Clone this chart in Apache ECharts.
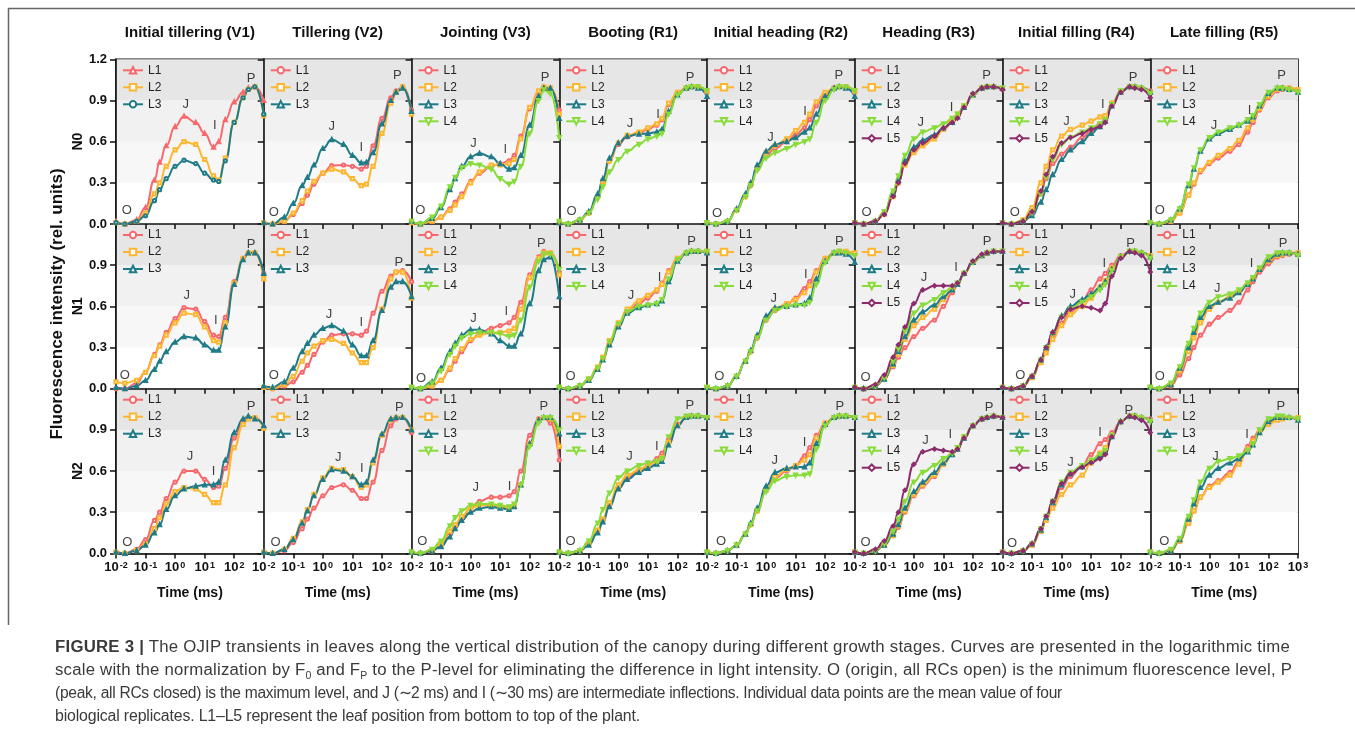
<!DOCTYPE html>
<html>
<head>
<meta charset="utf-8">
<title>OJIP transients</title>
<script src="https://cdn.jsdelivr.net/npm/echarts@6/dist/echarts.min.js"></script>
<style>
  body { margin: 0; background: #fff; }
  #chart { position: absolute; left: 0; top: 0; width: 1355px; height: 744px; }
  .ln {
    position: absolute; left: 55px; white-space: nowrap; display: inline-block;
    font-family: 'Liberation Sans', Arial, sans-serif;
    font-size: 16px; line-height: 20px; color: #3a3a3a; transform-origin: 0 50%;
  }
  .ln sub { font-size: 10px; line-height: 0; }
</style>
</head>
<body>
<div id="chart"></div>
<div class="ln" data-w="1235" style="top:637px"><b>FIGURE 3 |</b> The OJIP transients in leaves along the vertical distribution of the canopy during different growth stages. Curves are presented in the logarithmic time</div>
<div class="ln" data-w="1237" style="top:660px">scale with the normalization by F<sub>0</sub> and F<sub>P</sub> to the P-level for eliminating the difference in light intensity. O (origin, all RCs open) is the minimum fluorescence level, P</div>
<div class="ln" data-w="1007" style="top:683px">(peak, all RCs closed) is the maximum level, and J (∼2 ms) and I (∼30 ms) are intermediate inflections. Individual data points are the mean value of four</div>
<div class="ln" data-w="585" style="top:706px">biological replicates. L1–L5 represent the leaf position from bottom to top of the plant.</div>
<script>
// sampling times (ms) shared by every curve
const times = [0.01, 0.02, 0.05, 0.1, 0.2, 0.3, 0.5, 1, 2, 5, 10, 20, 30, 50, 100, 200, 300, 500, 1000];
const stages = ['Initial tillering (V1)', 'Tillering (V2)', 'Jointing (V3)', 'Booting (R1)',
  'Initial heading (R2)', 'Heading (R3)', 'Initial filling (R4)', 'Late filling (R5)'];
const nLevels = ['N0', 'N1', 'N2'];
const leafNames = ['L1', 'L2', 'L3', 'L4', 'L5'];
const ojipNames = ['O', 'J', 'I', 'P'];
const yTicks = [0, 0.3, 0.6, 0.9, 1.2];

/* N0 */
const n0v1 = [
  [0.02,0,0.03,0.12,0.32,0.45,0.57,0.71,0.785,0.74,0.66,0.56,0.6,0.76,0.89,0.96,0.99,1.0,0.9],
  [0.01,0,0.02,0.08,0.22,0.3,0.42,0.54,0.6,0.58,0.47,0.35,0.32,0.48,0.74,0.92,0.98,1.0,0.79],
  [0.01,0,0.02,0.06,0.17,0.25,0.33,0.42,0.465,0.44,0.37,0.32,0.31,0.46,0.74,0.92,0.98,1.0,0.8]];
const n0v2 = [
  [0.01,0,0.02,0.07,0.15,0.21,0.29,0.37,0.425,0.43,0.42,0.4,0.42,0.57,0.77,0.92,0.97,1.0,0.83],
  [0.01,0,0.02,0.08,0.17,0.24,0.31,0.37,0.4,0.38,0.33,0.28,0.29,0.42,0.66,0.88,0.96,1.0,0.8],
  [0.01,0,0.05,0.15,0.28,0.34,0.43,0.55,0.615,0.58,0.5,0.445,0.45,0.52,0.73,0.9,0.96,0.99,0.82]];
const n0v3 = [
  [0.01,0,0.02,0.05,0.11,0.16,0.22,0.31,0.37,0.42,0.44,0.46,0.5,0.64,0.84,0.96,0.99,0.98,0.83],
  [0.01,0,0.02,0.05,0.1,0.14,0.2,0.3,0.38,0.43,0.43,0.44,0.47,0.62,0.85,0.97,1.0,0.99,0.8],
  [0.02,0,0.04,0.12,0.25,0.33,0.42,0.49,0.515,0.49,0.44,0.4,0.41,0.5,0.72,0.93,0.99,0.99,0.77],
  [0.02,0,0.05,0.13,0.27,0.34,0.41,0.44,0.43,0.4,0.33,0.29,0.31,0.42,0.66,0.9,0.98,0.95,0.63]];
const n0v4 = [
  [0.01,0,0.03,0.08,0.2,0.31,0.46,0.58,0.635,0.66,0.69,0.72,0.76,0.87,0.96,0.99,1.0,1.0,0.96],
  [0.01,0,0.03,0.08,0.2,0.31,0.46,0.59,0.645,0.67,0.7,0.73,0.77,0.88,0.96,0.99,1.0,1.0,0.97],
  [0.01,0,0.03,0.09,0.22,0.33,0.48,0.59,0.64,0.655,0.66,0.67,0.69,0.82,0.94,0.99,1.0,0.99,0.93],
  [0.02,0,0.03,0.08,0.18,0.27,0.38,0.47,0.53,0.58,0.62,0.64,0.66,0.8,0.94,0.99,1.0,1.0,0.97]];
const n0v5 = [
  [0.01,0,0.02,0.1,0.2,0.28,0.4,0.5,0.55,0.6,0.65,0.7,0.76,0.86,0.95,0.99,1.0,1.0,0.96],
  [0.01,0,0.02,0.1,0.2,0.29,0.41,0.52,0.57,0.62,0.68,0.74,0.8,0.89,0.96,0.99,1.0,1.0,0.97],
  [0.01,0,0.02,0.11,0.22,0.3,0.43,0.53,0.58,0.6,0.63,0.67,0.7,0.8,0.93,0.99,1.0,0.99,0.93],
  [0.01,0,0.02,0.1,0.2,0.28,0.39,0.48,0.52,0.55,0.58,0.6,0.62,0.74,0.9,0.98,1.0,1.0,0.97]];
const n0v6 = [
  [0.01,0,0.02,0.08,0.21,0.31,0.44,0.53,0.58,0.63,0.69,0.74,0.79,0.86,0.94,0.99,1.0,1.0,0.98],
  [0.01,0,0.02,0.07,0.2,0.3,0.43,0.52,0.57,0.62,0.69,0.76,0.8,0.86,0.94,0.99,1.0,1.0,0.99],
  [0.01,0,0.02,0.08,0.22,0.32,0.46,0.56,0.61,0.65,0.7,0.74,0.78,0.85,0.94,0.99,1.0,1.0,0.99],
  [0.01,0,0.02,0.09,0.24,0.35,0.5,0.62,0.67,0.7,0.73,0.77,0.8,0.86,0.94,0.99,1.0,1.0,0.99],
  [0.01,0,0.02,0.07,0.2,0.3,0.44,0.54,0.59,0.64,0.7,0.74,0.77,0.85,0.95,0.99,1.0,1.0,0.98]];
const n0v7 = [
  [0.01,0,0.02,0.08,0.22,0.33,0.44,0.51,0.56,0.63,0.68,0.73,0.77,0.88,0.96,1.0,1.0,0.99,0.97],
  [0.01,0,0.03,0.12,0.3,0.42,0.54,0.64,0.69,0.72,0.75,0.78,0.79,0.88,0.96,1.0,1.0,0.99,0.96],
  [0.01,0,0.02,0.06,0.16,0.25,0.36,0.47,0.54,0.6,0.66,0.71,0.75,0.86,0.96,1.0,1.0,0.99,0.96],
  [0.01,0,0.02,0.08,0.22,0.34,0.47,0.58,0.63,0.67,0.7,0.73,0.76,0.87,0.97,1.0,1.0,0.99,0.95],
  [0.01,0,0.02,0.09,0.24,0.36,0.49,0.59,0.63,0.66,0.69,0.71,0.74,0.86,0.96,1.0,0.99,0.98,0.92]];
const n0v8 = [
  [0.01,0,0.02,0.08,0.21,0.29,0.38,0.44,0.48,0.53,0.58,0.67,0.74,0.83,0.92,0.97,0.98,0.99,0.97],
  [0.01,0,0.02,0.08,0.21,0.3,0.39,0.45,0.5,0.55,0.61,0.7,0.76,0.84,0.93,0.98,0.99,0.99,0.98],
  [0.01,0,0.03,0.11,0.28,0.4,0.53,0.62,0.66,0.69,0.72,0.75,0.78,0.86,0.95,0.99,0.99,0.98,0.96],
  [0.01,0,0.03,0.11,0.29,0.41,0.54,0.63,0.67,0.7,0.72,0.76,0.79,0.87,0.96,0.99,0.99,0.98,0.96]];

/* N1 */
const n1v1 = [
  [0,0,0.04,0.12,0.25,0.32,0.41,0.51,0.59,0.58,0.49,0.39,0.38,0.52,0.78,0.95,0.99,0.99,0.84],
  [0.05,0.04,0.06,0.12,0.24,0.31,0.39,0.48,0.55,0.54,0.45,0.35,0.34,0.48,0.77,0.95,0.99,0.99,0.8],
  [0.01,0,0.02,0.06,0.14,0.2,0.27,0.34,0.38,0.37,0.32,0.28,0.28,0.45,0.76,0.94,0.99,0.99,0.84]];
const n1v2 = [
  [0.01,0,0.02,0.05,0.12,0.17,0.25,0.34,0.39,0.4,0.4,0.39,0.42,0.55,0.71,0.82,0.85,0.86,0.78],
  [0.01,0,0.03,0.09,0.2,0.26,0.31,0.35,0.36,0.33,0.26,0.19,0.19,0.3,0.58,0.8,0.85,0.85,0.66],
  [0.02,0.01,0.05,0.15,0.27,0.33,0.39,0.44,0.46,0.42,0.32,0.24,0.24,0.35,0.57,0.74,0.78,0.78,0.67]];
const n1v3 = [
  [0.01,0,0.02,0.06,0.14,0.2,0.27,0.35,0.4,0.44,0.46,0.48,0.52,0.63,0.83,0.96,1.0,0.99,0.85],
  [0.01,0,0.02,0.06,0.15,0.22,0.29,0.36,0.39,0.41,0.41,0.42,0.44,0.58,0.81,0.95,0.99,0.99,0.83],
  [0.01,0,0.05,0.15,0.27,0.33,0.39,0.43,0.43,0.4,0.35,0.31,0.31,0.4,0.62,0.86,0.94,0.96,0.67],
  [0.01,0,0.04,0.13,0.25,0.31,0.37,0.4,0.41,0.41,0.4,0.38,0.39,0.5,0.74,0.93,0.98,0.98,0.87]];
const n1v4 = [
  [0.01,0,0.02,0.07,0.15,0.22,0.33,0.46,0.56,0.62,0.66,0.71,0.77,0.86,0.95,0.99,1.0,1.0,0.99],
  [0.01,0,0.02,0.07,0.16,0.23,0.35,0.48,0.58,0.64,0.68,0.72,0.76,0.85,0.95,0.99,1.0,1.0,1.0],
  [0.01,0,0.02,0.06,0.14,0.21,0.32,0.45,0.55,0.59,0.61,0.62,0.64,0.78,0.93,0.99,1.0,1.0,0.99],
  [0.01,0,0.02,0.07,0.15,0.22,0.34,0.47,0.56,0.6,0.61,0.62,0.65,0.8,0.94,0.99,1.0,1.0,1.0]];
const n1v5 = [
  [0.01,0,0.02,0.09,0.2,0.27,0.37,0.5,0.57,0.61,0.66,0.73,0.78,0.86,0.95,0.99,1.0,1.0,0.98],
  [0.01,0,0.02,0.09,0.2,0.27,0.38,0.51,0.58,0.62,0.65,0.7,0.75,0.85,0.95,0.99,1.0,1.0,0.99],
  [0.01,0,0.02,0.09,0.2,0.28,0.39,0.53,0.59,0.6,0.61,0.62,0.66,0.8,0.93,0.99,0.99,0.98,0.92],
  [0.01,0,0.02,0.09,0.2,0.27,0.37,0.5,0.57,0.6,0.61,0.61,0.63,0.76,0.92,0.99,1.0,0.99,0.97]];
const n1v6 = [
  [0.01,0,0.02,0.07,0.16,0.23,0.3,0.38,0.44,0.5,0.6,0.7,0.76,0.84,0.92,0.97,0.99,1.0,1.0],
  [0.01,0,0.02,0.07,0.17,0.25,0.36,0.46,0.52,0.58,0.65,0.72,0.76,0.84,0.92,0.97,0.99,1.0,1.0],
  [0.01,0,0.02,0.07,0.18,0.27,0.38,0.5,0.56,0.61,0.67,0.72,0.76,0.84,0.92,0.97,0.99,1.0,1.0],
  [0.01,0,0.02,0.08,0.2,0.29,0.42,0.55,0.61,0.65,0.7,0.74,0.77,0.84,0.92,0.97,0.99,1.0,1.0],
  [0.01,0,0.03,0.1,0.23,0.32,0.45,0.62,0.72,0.75,0.75,0.75,0.77,0.84,0.93,0.98,0.99,1.0,1.0]];
const n1v7 = [
  [0.01,0,0.02,0.09,0.2,0.28,0.38,0.48,0.56,0.64,0.72,0.8,0.84,0.9,0.97,1.0,1.0,0.99,0.97],
  [0.01,0,0.02,0.08,0.19,0.26,0.36,0.46,0.54,0.6,0.66,0.74,0.79,0.88,0.96,1.0,1.0,0.99,0.97],
  [0.01,0,0.02,0.09,0.21,0.3,0.41,0.53,0.6,0.65,0.69,0.74,0.78,0.87,0.96,1.0,1.0,0.99,0.96],
  [0.01,0,0.02,0.09,0.21,0.3,0.4,0.52,0.58,0.63,0.67,0.72,0.76,0.86,0.96,1.0,1.0,0.99,0.95],
  [0.01,0,0.02,0.09,0.21,0.3,0.41,0.52,0.58,0.6,0.59,0.57,0.62,0.82,0.95,1.0,0.99,0.97,0.85]];
const n1v8 = [
  [0.01,0,0.02,0.1,0.22,0.3,0.39,0.47,0.52,0.57,0.63,0.72,0.78,0.85,0.91,0.96,0.97,0.98,0.99],
  [0.01,0,0.03,0.13,0.27,0.37,0.48,0.58,0.63,0.67,0.71,0.77,0.81,0.87,0.93,0.97,0.98,0.99,0.99],
  [0.01,0,0.03,0.15,0.3,0.41,0.52,0.6,0.63,0.66,0.7,0.76,0.8,0.87,0.94,0.98,0.99,0.99,0.98],
  [0.01,0,0.04,0.16,0.33,0.44,0.55,0.63,0.67,0.69,0.72,0.77,0.81,0.88,0.96,0.99,0.99,0.99,0.97]];

/* N2 */
const n2v1 = [
  [0.01,0,0.03,0.1,0.24,0.3,0.4,0.52,0.6,0.6,0.54,0.48,0.49,0.62,0.84,0.97,0.99,0.99,0.92],
  [0.01,0,0.02,0.07,0.18,0.26,0.36,0.45,0.48,0.47,0.43,0.37,0.37,0.5,0.77,0.94,0.98,0.99,0.91],
  [0.01,0,0.02,0.06,0.15,0.21,0.32,0.42,0.47,0.49,0.5,0.5,0.52,0.68,0.88,0.98,1.0,0.98,0.93]];
const n2v2 = [
  [0.01,0,0.02,0.08,0.18,0.25,0.33,0.42,0.48,0.5,0.46,0.4,0.4,0.52,0.75,0.93,0.98,0.99,0.88],
  [0.01,0,0.03,0.11,0.23,0.32,0.43,0.55,0.62,0.61,0.56,0.48,0.5,0.66,0.86,0.97,0.99,0.99,0.9],
  [0.01,0,0.03,0.1,0.22,0.31,0.42,0.54,0.61,0.6,0.56,0.5,0.52,0.68,0.87,0.98,0.99,0.99,0.9]];
const n2v3 = [
  [0.01,0,0.02,0.06,0.15,0.2,0.26,0.33,0.38,0.41,0.41,0.42,0.45,0.6,0.86,0.98,0.99,0.95,0.68],
  [0.01,0,0.02,0.07,0.16,0.21,0.27,0.33,0.35,0.35,0.34,0.33,0.35,0.5,0.8,0.97,0.99,0.98,0.78],
  [0.01,0,0.02,0.05,0.12,0.18,0.24,0.3,0.33,0.34,0.33,0.32,0.34,0.5,0.8,0.97,0.99,0.99,0.87],
  [0.01,0,0.03,0.09,0.2,0.26,0.31,0.35,0.36,0.36,0.35,0.34,0.36,0.5,0.78,0.95,0.99,0.99,0.9]];
const n2v4 = [
  [0.01,0,0.02,0.07,0.16,0.24,0.35,0.48,0.55,0.6,0.64,0.69,0.73,0.83,0.94,0.99,1.0,1.0,0.99],
  [0.01,0,0.02,0.07,0.17,0.25,0.37,0.5,0.57,0.61,0.64,0.67,0.7,0.81,0.93,0.99,1.0,1.0,0.99],
  [0.01,0,0.02,0.06,0.15,0.23,0.34,0.47,0.54,0.59,0.62,0.65,0.67,0.79,0.93,0.99,1.0,1.0,0.99],
  [0.01,0,0.02,0.09,0.22,0.32,0.44,0.55,0.6,0.64,0.66,0.67,0.69,0.85,0.98,1.0,1.0,1.0,0.99]];
const n2v5 = [
  [0.01,0,0.02,0.06,0.14,0.21,0.31,0.46,0.55,0.6,0.64,0.71,0.77,0.86,0.95,0.99,1.0,1.0,0.99],
  [0.01,0,0.02,0.06,0.14,0.21,0.31,0.46,0.56,0.61,0.64,0.68,0.72,0.84,0.95,0.99,1.0,1.0,0.99],
  [0.01,0,0.02,0.06,0.14,0.22,0.33,0.49,0.59,0.62,0.63,0.63,0.66,0.8,0.94,0.99,1.0,1.0,0.99],
  [0.01,0,0.02,0.06,0.14,0.21,0.31,0.45,0.53,0.56,0.57,0.57,0.58,0.76,0.93,0.99,1.0,1.0,0.99]];
const n2v6 = [
  [0.01,0,0.02,0.06,0.13,0.19,0.3,0.42,0.49,0.56,0.65,0.72,0.76,0.84,0.93,0.98,0.99,1.0,0.99],
  [0.01,0,0.02,0.06,0.13,0.2,0.31,0.43,0.5,0.57,0.65,0.73,0.77,0.85,0.93,0.98,0.99,1.0,0.99],
  [0.01,0,0.02,0.06,0.14,0.21,0.33,0.45,0.52,0.59,0.66,0.72,0.76,0.84,0.93,0.98,0.99,1.0,0.99],
  [0.01,0,0.02,0.07,0.16,0.25,0.38,0.52,0.59,0.64,0.69,0.73,0.77,0.85,0.93,0.98,0.99,1.0,0.99],
  [0.01,0,0.03,0.09,0.2,0.3,0.46,0.65,0.74,0.76,0.75,0.74,0.76,0.84,0.93,0.98,0.99,1.0,0.99]];
const n2v7 = [
  [0.01,0,0.02,0.06,0.16,0.25,0.35,0.48,0.56,0.64,0.72,0.8,0.83,0.88,0.96,1.0,1.0,0.99,0.98],
  [0.01,0,0.02,0.06,0.16,0.24,0.33,0.43,0.5,0.57,0.66,0.73,0.77,0.86,0.96,1.0,1.0,0.99,0.97],
  [0.01,0,0.02,0.07,0.17,0.26,0.37,0.5,0.58,0.63,0.67,0.71,0.74,0.85,0.96,1.0,1.0,0.99,0.97],
  [0.01,0,0.02,0.07,0.18,0.27,0.38,0.52,0.59,0.64,0.68,0.72,0.75,0.86,0.96,1.0,1.0,0.99,0.96],
  [0.01,0,0.02,0.07,0.18,0.27,0.38,0.51,0.58,0.63,0.66,0.69,0.72,0.85,0.96,1.0,0.99,0.97,0.88]];
const n2v8 = [
  [0.01,0,0.02,0.09,0.22,0.31,0.41,0.49,0.53,0.59,0.67,0.78,0.84,0.9,0.95,0.98,0.99,0.99,0.98],
  [0.01,0,0.02,0.09,0.22,0.31,0.41,0.48,0.52,0.57,0.65,0.76,0.82,0.88,0.94,0.97,0.98,0.99,0.99],
  [0.01,0,0.02,0.1,0.25,0.36,0.48,0.57,0.62,0.66,0.69,0.74,0.79,0.88,0.96,0.99,0.99,0.99,0.97],
  [0.01,0,0.03,0.11,0.27,0.39,0.52,0.62,0.67,0.69,0.71,0.75,0.8,0.9,0.98,1.0,1.0,0.99,0.98]];

// O, J, I, P letter anchors [time, value] for each stage
const labelsN0 = [
  [[0.023,0.1],[2.3,0.87],[22,0.72],[370,1.06]], [[0.022,0.085],[2.0,0.71],[20,0.56],[330,1.08]],
  [[0.02,0.1],[1.25,0.59],[15,0.54],[330,1.07]], [[0.026,0.09],[2.5,0.73],[22,0.8],[270,1.07]],
  [[0.022,0.08],[1.4,0.63],[21,0.82],[290,1.08]], [[0.025,0.085],[1.7,0.74],[19,0.85],[290,1.08]],
  [[0.026,0.085],[1.47,0.75],[25,0.87],[260,1.07]], [[0.021,0.1],[1.44,0.72],[23,0.83],[280,1.08]]];
const labelsN1 = [
  [[0.02,0.1],[2.5,0.68],[24,0.5],[370,1.05]], [[0.022,0.1],[1.6,0.54],[20,0.48],[370,0.92]],
  [[0.021,0.075],[1.25,0.51],[16,0.56],[250,1.06]], [[0.024,0.087],[2.7,0.68],[25,0.81],[300,1.07]],
  [[0.026,0.087],[1.8,0.66],[22,0.83],[300,1.07]], [[0.023,0.08],[2.2,0.81],[27,0.88],[300,1.07]],
  [[0.04,0.1],[2.4,0.69],[28,0.91],[215,1.06]], [[0.021,0.087],[1.85,0.73],[27,0.91],[310,1.06]]];
const labelsN2 = [
  [[0.024,0.08],[3.2,0.71],[20,0.6],[370,1.07]], [[0.025,0.08],[3.3,0.7],[21,0.62],[390,1.06]],
  [[0.023,0.085],[1.5,0.48],[21,0.49],[300,1.07]], [[0.024,0.085],[2.4,0.71],[20,0.78],[260,1.08]],
  [[0.03,0.085],[1.95,0.68],[20,0.81],[310,1.07]], [[0.023,0.08],[2.5,0.82],[17,0.87],[350,1.06]],
  [[0.021,0.073],[2.0,0.66],[20,0.88],[190,1.04]], [[0.03,0.09],[1.6,0.71],[19,0.87],[260,1.07]]];

const curves = [
  [n0v1, n0v2, n0v3, n0v4, n0v5, n0v6, n0v7, n0v8],
  [n1v1, n1v2, n1v3, n1v4, n1v5, n1v6, n1v7, n1v8],
  [n2v1, n2v2, n2v3, n2v4, n2v5, n2v6, n2v7, n2v8]];
const letters = [labelsN0, labelsN1, labelsN2];

// styling
const FONT = "'Liberation Sans', Arial, Helvetica, sans-serif";
const leafColors = ['#f7686c', '#fdb630', '#1e7b87', '#88dc3a', '#8c2b6b'];
const leafSymbols = ['emptyCircle', 'emptyRect', 'emptyTriangle', 'emptyTriangle', 'emptyDiamond'];
const GL = 116, GT = 59.3, GW = 147.75, GH = 164.7;

var chart = echarts.init(document.getElementById('chart'));

var grids = [], xAxes = [], yAxes = [], series = [], legends = [];
for (let r = 0; r < 3; r++) {
  for (let c = 0; c < 8; c++) {
    const idx = r * 8 + c;
    const left = GL + c * GW, top = GT + r * GH;
    grids.push({ left: left, top: top, width: GW, height: GH, show: true,
      borderColor: '#111', borderWidth: 1.6, backgroundColor: 'transparent' });

    xAxes.push({
      gridIndex: idx, type: 'log', logBase: 10, min: 0.01, max: 1000,
      axisLine: { lineStyle: { color: '#111', width: 1.6 } },
      axisTick: { show: true, length: 5, lineStyle: { color: '#111', width: 1.5 } },
      splitLine: { show: false },
      axisLabel: {
        show: r === 2, showMaxLabel: c === 7, margin: 8,
        formatter: function (v) { return '{b|10}{s|' + Math.round(Math.log10(v)) + '}'; },
        rich: {
          b: { fontSize: 13, fontWeight: 'bold', color: '#111', fontFamily: FONT },
          s: { fontSize: 9, fontWeight: 'bold', color: '#111', fontFamily: FONT, verticalAlign: 'top', padding: [0, 0, 0, 1] }
        }
      },
      name: r === 2 ? 'Time (ms)' : '', nameLocation: 'middle', nameGap: 33,
      nameTextStyle: { fontWeight: 'bold', fontSize: 14, color: '#111', fontFamily: FONT }
    });

    yAxes.push({
      gridIndex: idx, type: 'value', min: yTicks[0], max: yTicks[4], interval: 0.3,
      axisLine: { show: true, lineStyle: { color: '#111', width: 1.6 } },
      axisTick: { show: true, length: 6, lineStyle: { color: '#111', width: 1.5 } },
      splitLine: { show: false },
      splitArea: { show: true, areaStyle: { color: ['#ffffff', '#f7f7f7', '#f1f1f1', '#e6e6e6'] } },
      axisLabel: {
        show: c === 0, showMaxLabel: r === 0, margin: 9,
        fontWeight: 'bold', fontSize: 13, color: '#111', fontFamily: FONT,
        formatter: function (v) { return v.toFixed(1); }
      },
      name: c === 0 ? nLevels[r] : '', nameLocation: 'middle', nameRotate: 90, nameGap: 31,
      nameTextStyle: { fontWeight: 'bold', fontSize: 14, color: '#111', fontFamily: FONT }
    });

    const panel = curves[r][c];
    const names = [];
    panel.forEach(function (vals, k) {
      let sym = leafSymbols[k];
      if (idx === 0 && k === 0) sym = 'emptyTriangle';
      if (idx === 0 && k === 2) sym = 'emptyCircle';
      const nm = 'p' + idx + '_' + leafNames[k];
      names.push(nm);
      series.push({
        type: 'line', name: nm, xAxisIndex: idx, yAxisIndex: idx,
        data: times.map(function (t, i) { return [t, vals[i]]; }),
        smooth: 0.5, smoothMonotone: 'x',
        symbol: sym, symbolSize: 3.2, symbolRotate: k === 3 ? 180 : 0,
        lineStyle: { width: 2, color: leafColors[k] },
        itemStyle: { color: leafColors[k], borderColor: leafColors[k], borderWidth: 1 },
        silent: true
      });
    });

    series.push({
      type: 'scatter', xAxisIndex: idx, yAxisIndex: idx, silent: true, z: 20,
      data: letters[r][c].map(function (p, i) { return [p[0], p[1], ojipNames[i]]; }),
      symbolSize: 1, itemStyle: { color: 'rgba(0,0,0,0)' },
      label: { show: true, position: 'inside', formatter: function (p) { return p.data[2]; },
        fontSize: 13, color: '#111', fontFamily: FONT }
    });

    legends.push({
      left: left + 6, top: top + 5, orient: 'vertical', padding: 0, itemGap: 5,
      itemWidth: 20, itemHeight: 8, selectedMode: false, data: names,
      formatter: function (n) { return n.split('_')[1]; },
      textStyle: { fontSize: 12, color: '#222', fontFamily: FONT }
    });
  }
}

var graphics = [
  { type: 'line', shape: { x1: 8, y1: 8.5, x2: 1355, y2: 8.5 }, style: { stroke: '#666', lineWidth: 1.5 } },
  { type: 'line', shape: { x1: 8.5, y1: 8, x2: 8.5, y2: 625 }, style: { stroke: '#666', lineWidth: 1.5 } },
  { type: 'text', x: 57, y: 304, rotation: Math.PI / 2,
    style: { text: 'Fluorescence intensity (rel. units)', fontSize: 17, fontWeight: 'bold', fontFamily: FONT,
      fill: '#111', align: 'center', verticalAlign: 'middle' } }
];
stages.forEach(function (s, c) {
  graphics.push({ type: 'text', x: GL + c * GW + GW / 2, y: 33,
    style: { text: s, fontSize: 15, fontWeight: 'bold', fontFamily: FONT, fill: '#111',
      align: 'center', verticalAlign: 'middle' } });
});

chart.setOption({
  animation: false,
  backgroundColor: '#fff',
  textStyle: { fontFamily: FONT },
  grid: grids, xAxis: xAxes, yAxis: yAxes, legend: legends,
  series: series, graphic: graphics
});

// caption: split each line's fit between a squeeze (pulled toward the common one) and letter spacing
var capLines = Array.prototype.slice.call(document.querySelectorAll('.ln'));
var natural = capLines.map(function (el) { return el.getBoundingClientRect().width; });
var fits = capLines.map(function (el, i) { return parseFloat(el.dataset.w) / natural[i]; });
var common = fits.reduce(function (a, b) { return a + b; }, 0) / fits.length;
capLines.forEach(function (el, i) {
  const sq = Math.sqrt(fits[i] * common);
  const extra = parseFloat(el.dataset.w) / sq - natural[i];
  el.style.letterSpacing = (extra / el.textContent.length) + 'px';
  el.style.transform = 'scaleX(' + sq + ')';
});
</script>
</body>
</html>
